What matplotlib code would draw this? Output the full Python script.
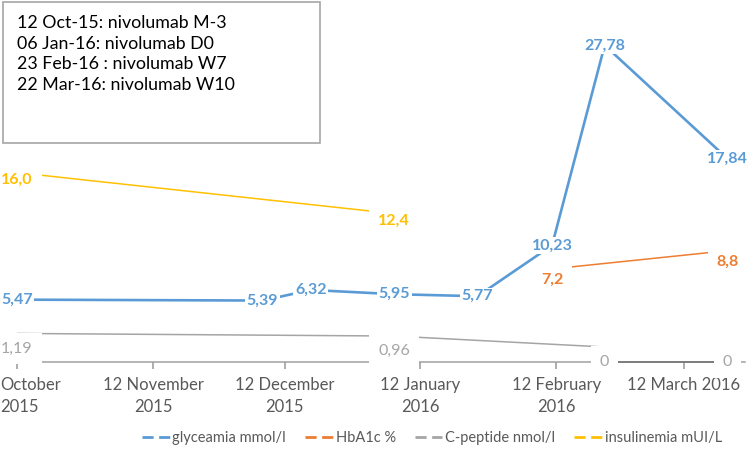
import matplotlib
matplotlib.use("Agg")
import matplotlib.pyplot as plt
import matplotlib.transforms as mtransforms
from matplotlib.lines import Line2D
from matplotlib.patches import Rectangle
import pandas as pd

plt.rcParams['font.family'] = ['Lato', 'DejaVu Sans']

# data
gly_dates = pd.to_datetime(['2015-10-12', '2015-12-07', '2015-12-18', '2016-01-06',
                            '2016-01-25', '2016-02-11', '2016-02-23', '2016-03-22'])
gly_vals = [5.47, 5.39, 6.32, 5.95, 5.77, 10.23, 27.78, 17.84]
hba_dates = pd.to_datetime(['2016-02-11', '2016-03-22'])
hba_vals = [7.2, 8.8]
cpep_dates = pd.to_datetime(['2015-10-12', '2016-01-06', '2016-02-23', '2016-03-22'])
cpep_vals = [1.19, 0.96, 0, 0]
ins_dates = pd.to_datetime(['2015-10-12', '2016-01-06'])
ins_vals = [16.0, 12.4]

tick_dates = pd.to_datetime(['2015-10-12', '2015-11-12', '2015-12-12',
                             '2016-01-12', '2016-02-12', '2016-03-12'])
tick_labels = ['October\n2015', '12 November\n2015', '12 December\n2015',
               '12 January\n2016', '12 February\n2016', '12 March 2016']
notes = ['12 Oct-15: nivolumab M-3', '06 Jan-16: nivolumab D0',
         '23 Feb-16 : nivolumab W7', '22 Mar-16: nivolumab W10']

BLUE, ORANGE, GRAY, YELLOW = '#5B9BD5', '#ED7D31', '#A5A5A5', '#FFC000'
TXT = '#595959'
AXC = '#A0A0A0'

fig = plt.figure(figsize=(7.5, 4.59), dpi=100)
ax = fig.add_axes([17/750, 97/459, 728/750, 342/459])
ax.set_xlim(pd.Timestamp('2015-10-12'), pd.Timestamp('2016-03-26'))
ax.set_ylim(0, 30)

def shifted(px):
    return mtransforms.offset_copy(ax.transData, fig=fig, x=0, y=px, units='dots')

def fmt(v, nd):
    return '0' if v == 0 else f'{v:.{nd}f}'.replace('.', ',')

# axis line drawn as a plain line so the white label boxes sit on top of it
ax.axhline(0, color=AXC, lw=1.1, zorder=1.5, clip_on=False)

# thin series
ax.plot(ins_dates, ins_vals, color=YELLOW, lw=1.1, transform=shifted(7), zorder=2)
ax.plot(hba_dates, hba_vals, color=ORANGE, lw=1.1, transform=shifted(11), zorder=2)
ax.plot(cpep_dates[:3], cpep_vals[:3], color=GRAY, lw=1.1, transform=shifted(15), zorder=2)
ax.plot(cpep_dates[2:], cpep_vals[2:], color='#6F6F6F', lw=1.1, zorder=2.6, clip_on=False)
# glycaemia
ax.plot(gly_dates, gly_vals, color=BLUE, lw=1.9, zorder=2.7)

big = dict(boxstyle='square,pad=0.55', fc='white', ec='none')
small = dict(boxstyle='square,pad=0.1', fc='white', ec='none')
LS = 11.5
for d, v in zip(gly_dates, gly_vals):
    ax.text(d, v, fmt(v, 2), color=BLUE, fontsize=LS, fontweight='bold',
            ha='center', va='center', bbox=small, zorder=4)
for d, v in zip(ins_dates, ins_vals):
    ax.text(d, v, fmt(v, 1), color=YELLOW, fontsize=LS, fontweight='bold',
            ha='center', va='center', bbox=big, zorder=3)
for d, v in zip(hba_dates, hba_vals):
    ax.text(d, v, fmt(v, 1), color=ORANGE, fontsize=LS, fontweight='bold',
            ha='center', va='center', bbox=big, zorder=3)
for d, v in zip(cpep_dates, cpep_vals):
    ax.text(d, v, fmt(v, 2), color=GRAY, fontsize=LS,
            ha='center', va='center', bbox=big, zorder=3, clip_on=False)

for s in ['top', 'right', 'left', 'bottom']:
    ax.spines[s].set_visible(False)
ax.set_yticks([])
ax.set_xticks(tick_dates)
ax.set_xticklabels(tick_labels, fontsize=12, color=TXT, linespacing=1.45,
                   multialignment='center')
ax.tick_params(axis='x', direction='out', length=5, width=1.2, color=AXC, pad=6)
first = ax.get_xticklabels()[0]
first.set_horizontalalignment('left')
first.set_multialignment('left')
first.set_transform(first.get_transform() +
                    mtransforms.ScaledTranslation(-17/100, 0, fig.dpi_scale_trans))

# notes box
fig.patches.append(Rectangle((3/750, 1 - 143/459), 317/750, 141/459, transform=fig.transFigure,
                             fc='white', ec='#A6A6A6', lw=1.2, zorder=5))
for i, line in enumerate(notes):
    fig.text(17/750, 1 - (23 + i*20.7)/459, line, fontsize=12.8, color='black',
             ha='left', va='center', zorder=6)

handles = [Line2D([], [], color=c, lw=2, ls=(0, (4, 2))) for c in (BLUE, ORANGE, GRAY, YELLOW)]
fig.legend(handles, ['glyceamia mmol/l', 'HbA1c %', 'C-peptide nmol/l', 'insulinemia mUI/L'],
           loc='center', bbox_to_anchor=(432/750, (459-438)/459), ncol=4, frameon=False,
           fontsize=10.5, labelcolor=TXT, handlelength=1.9, handletextpad=0.2, columnspacing=1.3)

fig.savefig('out.png', dpi=100)
